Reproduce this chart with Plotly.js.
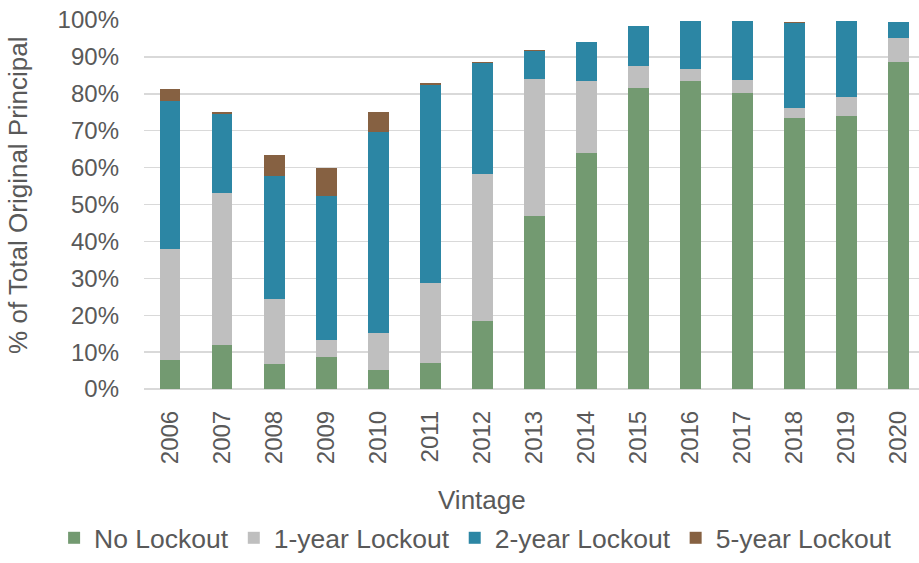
<!DOCTYPE html>
<html>
<head>
<meta charset="utf-8">
<script src="https://cdn.plot.ly/plotly-3.0.1.min.js"></script>
<style>html,body{margin:0;padding:0;background:#fff;}#chart{width:919px;height:563px;}</style>
</head>
<body>
<div id="chart"></div>
<script>
const vintages = ['2006','2007','2008','2009','2010','2011','2012','2013','2014','2015','2016','2017','2018','2019','2020'];
const noLockout   = [7.8, 12.0, 6.8, 8.7, 5.2, 7.0, 18.4, 46.9, 64.0, 81.6, 83.5, 80.3, 73.4, 73.9, 88.6];
const oneYear     = [30.2, 41.2, 17.5, 4.5, 9.9, 21.8, 39.8, 37.1, 19.4, 6.0, 3.1, 3.5, 2.8, 5.1, 6.5];
const twoYear     = [40.0, 21.4, 33.4, 39.2, 54.5, 53.7, 30.1, 7.5, 10.7, 10.9, 13.0, 15.9, 23.0, 20.6, 4.4];
const fiveYear    = [3.4, 0.4, 5.7, 7.6, 5.5, 0.3, 0.3, 0.3, 0.0, 0.0, 0.1, 0.0, 0.3, 0.0, 0.0];
const seriesNames = ['No Lockout', '1-year Lockout', '2-year Lockout', '5-year Lockout'];
const seriesColors = ['#739A71', '#BFBFBF', '#2C86A4', '#866142'];
const seriesValues = [noLockout, oneYear, twoYear, fiveYear];

const textColor = '#595959';
const font = 'Liberation Sans, Arial, sans-serif';

const traces = seriesValues.map((vals, i) => ({
  type: 'bar',
  name: seriesNames[i],
  x: vintages,
  y: vals.map(v => v / 100),
  marker: { color: seriesColors[i], line: { width: 0 } },
  hoverinfo: 'x+y+name'
}));

const layout = {
  width: 919, height: 563,
  margin: { l: 144, r: 0, t: 20, b: 174, pad: 0 },
  paper_bgcolor: '#ffffff', plot_bgcolor: '#ffffff',
  barmode: 'stack',
  bargap: 0.6,
  font: { family: font, color: textColor, size: 24 },
  xaxis: {
    type: 'category',
    range: [-0.5, 14.39],
    tickangle: -90,
    tickfont: { family: font, size: 24, color: textColor },
    showgrid: false,
    showline: false,
    zeroline: false,
    ticks: '',
    automargin: false,
    ticklabelstandoff: 16
  },
  yaxis: {
    range: [0, 1],
    tickvals: [0,0.1,0.2,0.3,0.4,0.5,0.6,0.7,0.8,0.9,1.0],
    ticktext: ['0%','10%','20%','30%','40%','50%','60%','70%','80%','90%','100%'],
    tickfont: { family: font, size: 24, color: textColor },
    showgrid: true, gridcolor: '#D9D9D9', gridwidth: 1.4,
    zeroline: true, zerolinecolor: '#D9D9D9', zerolinewidth: 1.4,
    showline: false, ticks: '',
    automargin: false,
    ticklabelstandoff: 24
  },
  showlegend: true,
  legend: {
    orientation: 'h',
    x: -0.116, xanchor: 'left',
    y: -0.469, yanchor: 'bottom',
    font: { family: font, size: 26.5, color: textColor },
    itemwidth: 30,
    traceorder: 'normal',
    bgcolor: 'rgba(0,0,0,0)'
  },
  annotations: [
    {
      text: 'Vintage', xref: 'paper', yref: 'paper',
      x: 0.436, y: -0.301, xanchor: 'center', yanchor: 'middle',
      showarrow: false, font: { family: font, size: 26, color: textColor }
    },
    {
      text: '% of Total Original Principal', xref: 'paper', yref: 'paper',
      x: -0.1626, y: 0.526, xanchor: 'center', yanchor: 'middle', textangle: -90,
      showarrow: false, font: { family: font, size: 26, color: textColor }
    }
  ]
};

Plotly.newPlot('chart', traces, layout, { displayModeBar: false, staticPlot: true });
</script>
</body>
</html>
